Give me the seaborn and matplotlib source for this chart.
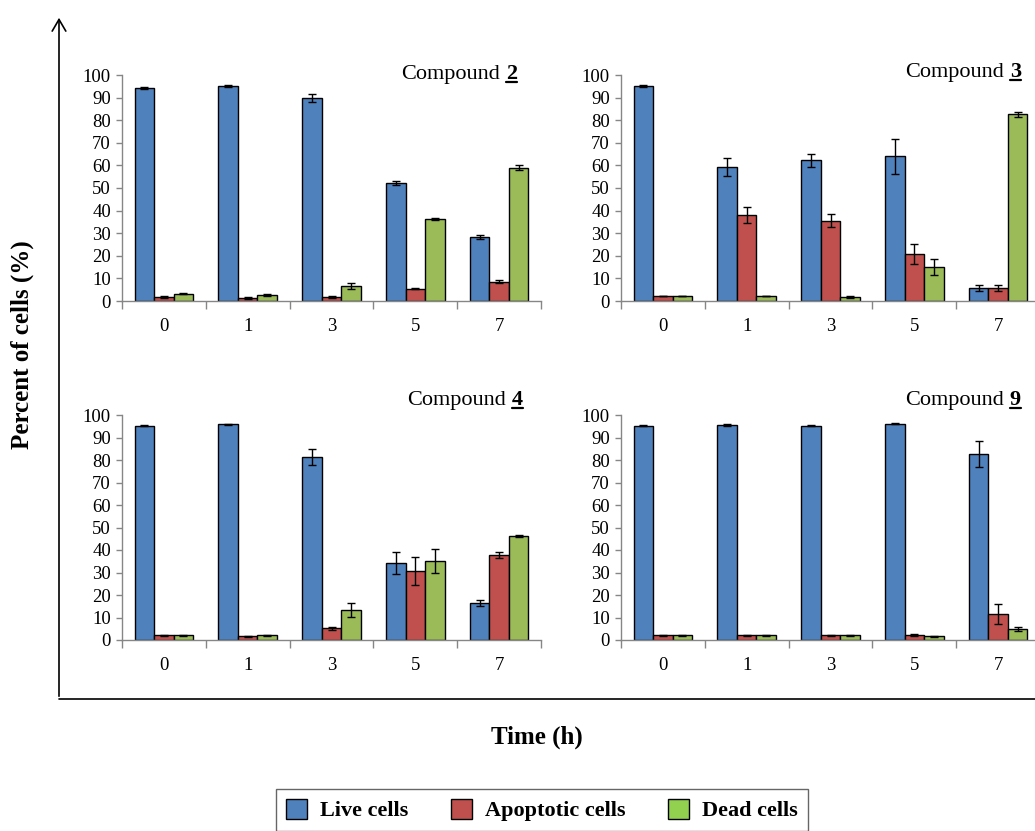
import matplotlib
matplotlib.use("Agg")
import numpy as np
import pandas as pd
import seaborn as sns
import matplotlib.pyplot as plt
from matplotlib.lines import Line2D
from matplotlib.patches import Patch, FancyArrowPatch

# ---- data -------------------------------------------------------------
time_points = ["0", "1", "3", "5", "7"]
cell_types = ["Live cells", "Apoptotic cells", "Dead cells"]

# Compound 2
c2_live = [94.1, 95.1, 89.8, 52.3, 28.4]
c2_apop = [1.8, 1.5, 1.8, 5.5, 8.6]
c2_dead = [3.2, 2.7, 6.6, 36.3, 58.9]
c2_live_err = [0.5, 0.6, 1.7, 1.0, 1.0]
c2_apop_err = [0.3, 0.4, 0.3, 0.3, 0.8]
c2_dead_err = [0.3, 0.3, 1.5, 0.3, 1.1]

# Compound 3
c3_live = [95.0, 59.4, 62.2, 64.1, 5.6]
c3_apop = [2.2, 38.0, 35.5, 20.8, 5.6]
c3_dead = [2.2, 2.2, 1.8, 15.1, 82.6]
c3_live_err = [0.4, 3.9, 2.7, 7.7, 1.3]
c3_apop_err = [0.2, 3.6, 2.9, 4.3, 1.3]
c3_dead_err = [0.2, 0.2, 0.4, 3.4, 1.2]

# Compound 4
c4_live = [95.3, 95.9, 81.5, 34.2, 16.6]
c4_apop = [2.1, 1.6, 5.2, 30.5, 37.6]
c4_dead = [2.1, 2.1, 13.3, 35.1, 46.1]
c4_live_err = [0.4, 0.2, 3.6, 4.8, 1.3]
c4_apop_err = [0.2, 0.2, 0.7, 6.2, 1.3]
c4_dead_err = [0.2, 0.2, 3.1, 5.4, 0.5]

# Compound 9
c9_live = [95.3, 95.7, 95.3, 96.1, 82.8]
c9_apop = [2.1, 2.1, 2.1, 2.1, 11.7]
c9_dead = [2.1, 2.1, 2.1, 1.6, 5.0]
c9_live_err = [0.4, 0.5, 0.3, 0.2, 5.7]
c9_apop_err = [0.2, 0.2, 0.2, 0.5, 4.5]
c9_dead_err = [0.2, 0.2, 0.2, 0.4, 1.0]

bar_colors = ["#4F81BD", "#C0504D", "#9BBB59"]
legend_colors = ["#4F81BD", "#C0504D", "#92D050"]
spine_gray = "#868686"

# ---- style --------------------------------------------------------------
sns.set_style("white")
plt.rcParams["font.family"] = ["Liberation Serif", "DejaVu Serif"]
plt.rcParams["text.color"] = "black"
plt.rcParams["axes.labelcolor"] = "black"
plt.rcParams["xtick.color"] = "black"
plt.rcParams["ytick.color"] = "black"

W, H = 1035, 831
fig = plt.figure(figsize=(W / 100, H / 100), dpi=100)
fig.patch.set_facecolor("white")


def px_rect(left, right, y0, y100):
    return [left / W, 1 - y0 / H, (right - left) / W, (y0 - y100) / H]


panels = [
    # number, values, errors, axes rect, title right edge / baseline (px)
    ("2", (c2_live, c2_apop, c2_dead), (c2_live_err, c2_apop_err, c2_dead_err),
     px_rect(122, 541, 301, 75), 517, 79),
    ("3", (c3_live, c3_apop, c3_dead), (c3_live_err, c3_apop_err, c3_dead_err),
     px_rect(621, 1040, 301, 75), 1021, 77),
    ("4", (c4_live, c4_apop, c4_dead), (c4_live_err, c4_apop_err, c4_dead_err),
     px_rect(122, 541, 640, 415), 523, 405),
    ("9", (c9_live, c9_apop, c9_dead), (c9_live_err, c9_apop_err, c9_dead_err),
     px_rect(621, 1040, 640, 415), 1021, 405),
]

titles = []
for number, series, errors, rect, tx, ty in panels:
    ax = fig.add_axes(rect)
    df = pd.DataFrame({
        "time": np.tile(time_points, len(cell_types)),
        "cell": np.repeat(cell_types, len(time_points)),
        "pct": np.concatenate(series),
    })
    sns.barplot(data=df, x="time", y="pct", hue="cell", order=time_points,
                hue_order=cell_types, palette=bar_colors, saturation=1,
                width=0.7, edgecolor="black", linewidth=1, errorbar=None,
                legend=False, ax=ax, zorder=2)
    # error bars on top of each bar
    for container, errs in zip(ax.containers, errors):
        for bar, e in zip(container, errs):
            ax.errorbar(bar.get_x() + bar.get_width() / 2, bar.get_height(),
                        yerr=e, fmt="none", ecolor="black", elinewidth=1,
                        capsize=3.2, capthick=1, zorder=3)

    ax.set_xlim(-0.5, len(time_points) - 0.5)
    ax.set_ylim(0, 100)
    ax.set_yticks(range(0, 101, 10))
    ax.set_xlabel("")
    ax.set_ylabel("")
    ax.set_facecolor("none")
    for s in ("top", "right"):
        ax.spines[s].set_visible(False)
    for s in ("left", "bottom"):
        ax.spines[s].set_color(spine_gray)
        ax.spines[s].set_linewidth(1)
    ax.set_xticks(np.arange(-0.5, len(time_points)), minor=True)
    ax.tick_params(axis="y", which="major", length=4, width=1,
                   color=spine_gray, labelcolor="black", labelsize=13.5,
                   pad=4, direction="out", left=True)
    ax.tick_params(axis="x", which="major", length=0, labelsize=13.5,
                   labelcolor="black", pad=12)
    ax.tick_params(axis="x", which="minor", length=6, width=1,
                   color=spine_gray, direction="out", bottom=True)
    titles.append((number, tx, ty))

# ---- panel titles: "Compound" + bold underlined number ------------------
fig.canvas.draw()
renderer = fig.canvas.get_renderer()
for number, tx, ty in titles:
    num = fig.text(tx / W, 1 - ty / H, number, ha="right", va="baseline",
                   fontsize=16, fontweight="bold", color="black")
    bb = num.get_window_extent(renderer)
    fig.text((bb.x0 - 6) / W, 1 - ty / H, "Compound", ha="right",
             va="baseline", fontsize=16, color="black")
    uy = 1 - (ty + 3) / H
    fig.add_artist(Line2D([bb.x0 / W, bb.x1 / W], [uy, uy],
                          transform=fig.transFigure, color="black", lw=1.6))

# ---- outer axis frame ---------------------------------------------------
x0, ybase, ytop = 59 / W, 1 - 699 / H, 1 - 15 / H
fig.add_artist(FancyArrowPatch((x0, ybase), (x0, ytop),
                               transform=fig.transFigure,
                               arrowstyle="->,head_length=0.6,head_width=0.35",
                               mutation_scale=14, lw=1.2, color="black"))
fig.add_artist(Line2D([x0, 1.0], [ybase, ybase], transform=fig.transFigure,
                      color="black", lw=1.2))

fig.text(22 / W, 1 - 345 / H, "Percent of cells (%)", rotation=90,
         ha="center", va="center", fontsize=18, fontweight="bold",
         color="black")
fig.text(537 / W, 1 - 737 / H, "Time (h)", ha="center", va="center",
         fontsize=18, fontweight="bold", color="black")

# ---- legend ---------------------------------------------------------------
handles = [Patch(facecolor=c, edgecolor="black", linewidth=1) for c in legend_colors]
leg = fig.legend(handles, cell_types, loc="center",
                 bbox_to_anchor=(542 / W, 1 - 810 / H), ncol=3, frameon=True,
                 fancybox=False, edgecolor="#404040",
                 prop={"weight": "bold", "size": 16},
                 handlelength=0.95, handleheight=1.0, handletextpad=0.6,
                 columnspacing=1.9, borderpad=0.45)
leg.get_frame().set_linewidth(1)
for t in leg.get_texts():
    t.set_color("black")

fig.savefig("out.png", dpi=100, facecolor="white")
